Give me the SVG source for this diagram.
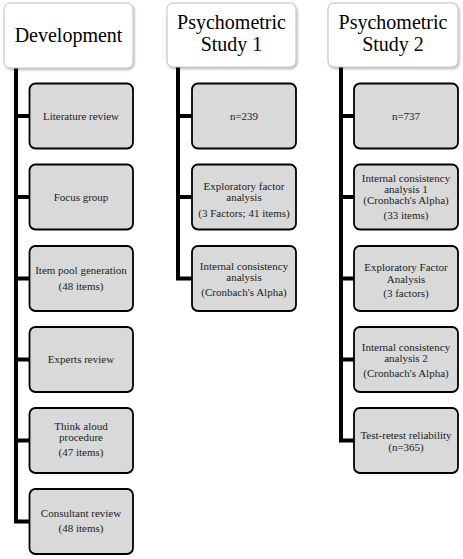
<svg xmlns="http://www.w3.org/2000/svg" width="463" height="559" viewBox="0 0 463 559">
<defs>
<filter id="sh" x="-10%" y="-10%" width="130%" height="130%">
<feDropShadow dx="1" dy="1.5" stdDeviation="1" flood-color="#000" flood-opacity="0.3"/>
</filter>
<style>
.hdr{fill:#fff;stroke:#bfbfbf;stroke-width:1;filter:url(#sh)}
.box{fill:#d9d9d9;stroke:#000;stroke-width:1.8}
text{font-family:'Liberation Serif','Times New Roman','DejaVu Serif',serif}
.ht{font-size:20px;fill:#000;text-anchor:middle}
.bt{font-size:11px;fill:#222;text-anchor:middle}
.ln{fill:none;stroke:#000;stroke-width:4}
</style>
</defs>
<rect width="463" height="559" fill="#fff"/>
<g id="connectors">
<path class="ln" d="M16,68 V521.5 M16,116 H29 M16,197 H29 M16,278.5 H29 M16,359.5 H29 M16,440.5 H29 M14,521.5 H29"/>
<path class="ln" d="M178,67 V278.5 M178,116 H192 M178,197 H192 M176,278.5 H192"/>
<path class="ln" d="M341,67 V440.5 M341,116 H354 M341,197 H354 M341,278.5 H354 M341,359.5 H354 M339,440.5 H354"/>
</g>
<g id="development">
<rect class="hdr" x="4" y="3" width="129" height="65" rx="6"/>
<text class="ht" x="68.5" y="42">Development</text>
</g>
<g id="literature-review">
<rect class="box" x="29.5" y="83.5" width="103.5" height="65" rx="6"/>
<text class="bt" x="81" y="120">Literature review</text>
</g>
<g id="focus-group">
<rect class="box" x="29.5" y="164.5" width="103.5" height="65" rx="6"/>
<text class="bt" x="81" y="201">Focus group</text>
</g>
<g id="item-pool">
<rect class="box" x="29.5" y="246" width="103.5" height="65" rx="6"/>
<text class="bt" x="81" y="274">Item pool generation</text>
<text class="bt" x="81" y="290">(48 items)</text>
</g>
<g id="experts-review">
<rect class="box" x="29.5" y="327" width="103.5" height="65" rx="6"/>
<text class="bt" x="81" y="363">Experts review</text>
</g>
<g id="think-aloud">
<rect class="box" x="29.5" y="408" width="103.5" height="65" rx="6"/>
<text class="bt" x="81" y="430">Think aloud</text>
<text class="bt" x="81" y="441">procedure</text>
<text class="bt" x="81" y="456">(47 items)</text>
</g>
<g id="consultant-review">
<rect class="box" x="29.5" y="489" width="103.5" height="65" rx="6"/>
<text class="bt" x="81" y="517">Consultant review</text>
<text class="bt" x="81" y="532">(48 items)</text>
</g>
<g id="study1">
<rect class="hdr" x="167" y="3" width="129" height="64" rx="6"/>
<text class="ht" x="231.5" y="29">Psychometric</text>
<text class="ht" x="231.5" y="51">Study 1</text>
</g>
<g id="n239">
<rect class="box" x="192" y="83.5" width="104" height="65" rx="6"/>
<text class="bt" x="244" y="120">n=239</text>
</g>
<g id="efa1">
<rect class="box" x="192" y="164.5" width="104" height="65" rx="6"/>
<text class="bt" x="244" y="190">Exploratory factor</text>
<text class="bt" x="244" y="201">analysis</text>
<text class="bt" x="244" y="217">(3 Factors; 41 items)</text>
</g>
<g id="ica1">
<rect class="box" x="192" y="246" width="104" height="65" rx="6"/>
<text class="bt" x="244" y="270">Internal consistency</text>
<text class="bt" x="244" y="281">analysis</text>
<text class="bt" x="244" y="296">(Cronbach's Alpha)</text>
</g>
<g id="study2">
<rect class="hdr" x="328" y="3" width="130" height="64" rx="6"/>
<text class="ht" x="393" y="29">Psychometric</text>
<text class="ht" x="393" y="51">Study 2</text>
</g>
<g id="n737">
<rect class="box" x="354" y="83.5" width="104" height="65" rx="6"/>
<text class="bt" x="406" y="120">n=737</text>
</g>
<g id="ica-s2-1">
<rect class="box" x="354" y="164.5" width="104" height="65" rx="6"/>
<text class="bt" x="406" y="182">Internal consistency</text>
<text class="bt" x="406" y="193">analysis  1</text>
<text class="bt" x="406" y="204">(Cronbach's Alpha)</text>
<text class="bt" x="406" y="219">(33 items)</text>
</g>
<g id="efa2">
<rect class="box" x="354" y="246" width="104" height="65" rx="6"/>
<text class="bt" x="406" y="271">Exploratory Factor</text>
<text class="bt" x="406" y="283">Analysis</text>
<text class="bt" x="406" y="297">(3 factors)</text>
</g>
<g id="ica-s2-2">
<rect class="box" x="354" y="327" width="104" height="65" rx="6"/>
<text class="bt" x="406" y="351">Internal consistency</text>
<text class="bt" x="406" y="362">analysis 2</text>
<text class="bt" x="406" y="377">(Cronbach's Alpha)</text>
</g>
<g id="test-retest">
<rect class="box" x="354" y="408" width="104" height="65" rx="6"/>
<text class="bt" x="406" y="439">Test-retest reliability</text>
<text class="bt" x="406" y="451">(n=365)</text>
</g>
</svg>
